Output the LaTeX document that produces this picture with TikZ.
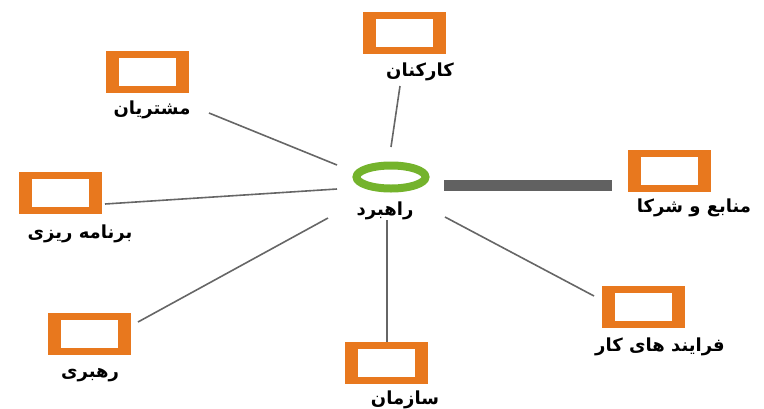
\documentclass[tikz,border=0pt]{standalone}
\usepackage{fontspec}
\usetikzlibrary{shapes.geometric}
\TeXXeTstate=1
\newfontfamily\arabicfont[Script=Arabic]{DejaVu Sans}
\definecolor{boxorange}{HTML}{E8781E}
\definecolor{ringgreen}{HTML}{74B32C}
\definecolor{linegray}{HTML}{666666}
\newcommand{\fa}[1]{\arabicfont\bfseries\beginR #1\endR}

\begin{document}
\begin{tikzpicture}[x=1pt, y=-1pt,
	unit/.style={rectangle, fill=boxorange, inner sep=0pt, minimum width=83pt, minimum height=42pt,
		path picture={\fill[white] ([xshift=13pt,yshift=7pt]path picture bounding box.south west) rectangle ([xshift=-13pt,yshift=-7pt]path picture bounding box.north east);}},
	hubring/.style={ellipse, draw=ringgreen, line width=8pt, inner sep=0pt, minimum width=69pt, minimum height=23pt},
	lbl/.style={inner sep=1pt, font=\fontsize{18}{20}\selectfont},
	link/.style={draw=linegray, line width=1.6pt}]
	\useasboundingbox (0,0) rectangle (764,408);
	% hub
	\node[hubring] (hub) at (391,177) {};
	\node[lbl] (hubtxt) at (385,211) {\fa{راهبرد}};
	% units round the hub
	\node[unit] (kar) at (404,32.5) {};
	\node[lbl] (kartxt) at (420,72) {\fa{کارکنان}};
	\node[unit] (moshtari) at (147,72) {};
	\node[lbl] (moshtaritxt) at (152,110) {\fa{مشتریان}};
	\node[unit] (barname) at (60,193) {};
	\node[lbl] (barnametxt) at (80,234) {\fa{برنامه ریزی}};
	\node[unit] (rahbari) at (89.5,333.5) {};
	\node[lbl] (rahbaritxt) at (90,375) {\fa{رهبری}};
	\node[unit] (sazman) at (386.5,363) {};
	\node[lbl] (sazmantxt) at (405,400) {\fa{سازمان}};
	\node[unit] (farayand) at (643,306.5) {};
	\node[lbl] (farayandtxt) at (660,347) {\fa{فرایند های کار}};
	\node[unit] (manabe) at (669.5,170.5) {};
	\node[lbl] (manabetxt) at (694,208) {\fa{منابع و شرکا}};
	% line ends
	\coordinate (k1) at (400,86);    \coordinate (k2) at (391,147);
	\coordinate (m1) at (209,113);   \coordinate (m2) at (337,165);
	\coordinate (b1) at (105,204);   \coordinate (b2) at (337,189);
	\coordinate (r1) at (138,322);   \coordinate (r2) at (328,218);
	\coordinate (s1) at (387,220);   \coordinate (s2) at (387,342);
	\coordinate (f1) at (445,217);   \coordinate (f2) at (594,296);
	\coordinate (n1) at (444,185.5); \coordinate (n2) at (612,185.5);
	\path[link] (k1) -- (k2);
	\path[link] (m1) -- (m2);
	\path[link] (b1) -- (b2);
	\path[link] (r1) -- (r2);
	\path[link] (s1) -- (s2);
	\path[link] (f1) -- (f2);
	\draw[draw=linegray!95!black, line width=11pt] (n1) -- (n2);
\end{tikzpicture}
\end{document}
